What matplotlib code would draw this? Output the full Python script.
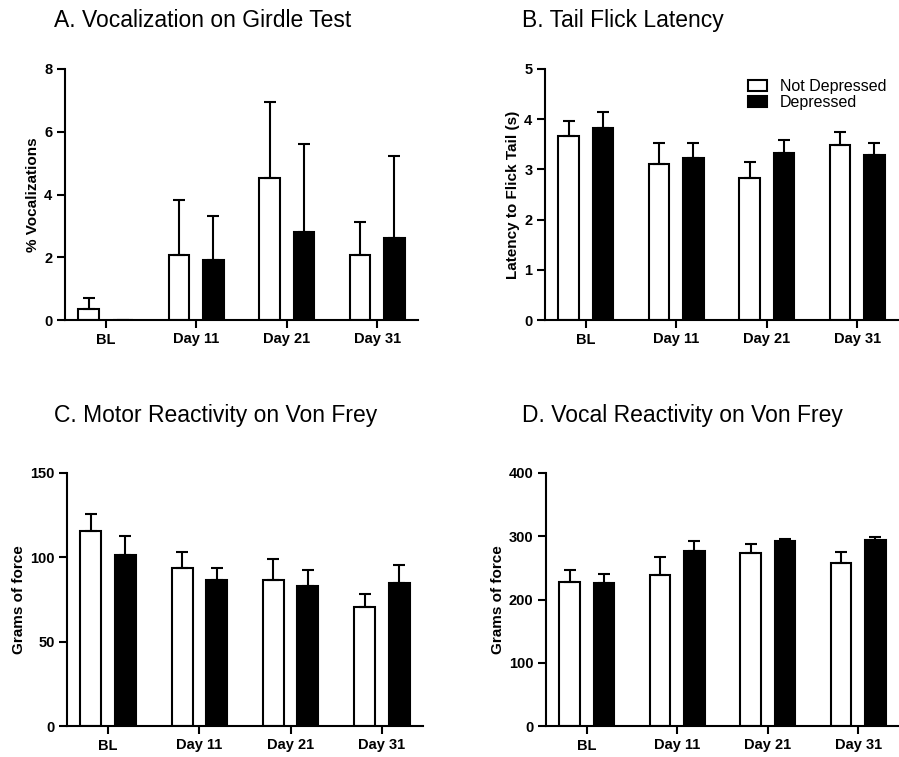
import numpy as np
import matplotlib
matplotlib.use("Agg")
import matplotlib.pyplot as plt

plt.rcParams['font.family'] = ['Liberation Sans', 'DejaVu Sans']

days = ["BL", "Day 11", "Day 21", "Day 31"]
groups = ["Not Depressed", "Depressed"]

# mean and upper SEM for each panel, (not depressed, depressed)
girdle_nd = [0.34, 2.07, 4.54, 2.07]
girdle_nd_err = [0.36, 1.76, 2.41, 1.06]
girdle_d = [0.0, 1.91, 2.79, 2.61]
girdle_d_err = [np.nan, 1.42, 2.81, 2.63]

tail_nd = [3.66, 3.11, 2.83, 3.48]
tail_nd_err = [0.31, 0.41, 0.31, 0.26]
tail_d = [3.83, 3.22, 3.33, 3.29]
tail_d_err = [0.32, 0.31, 0.26, 0.23]

motor_nd = [115.5, 93.9, 86.8, 70.7]
motor_nd_err = [10.3, 9.3, 12.3, 7.6]
motor_d = [101.6, 86.6, 83.2, 85.0]
motor_d_err = [10.9, 7.3, 9.3, 10.3]

vocal_nd = [227.7, 239.4, 273.7, 258.4]
vocal_nd_err = [18.5, 27.4, 13.8, 17.4]
vocal_d = [225.6, 276.9, 291.7, 293.3]
vocal_d_err = [14.8, 14.8, 4.7, 5.8]

panels = [
    ("A. Vocalization on Girdle Test", "% Vocalizations", girdle_nd, girdle_nd_err,
     girdle_d, girdle_d_err, 8, 2),
    ("B. Tail Flick Latency", "Latency to Flick Tail (s)", tail_nd, tail_nd_err,
     tail_d, tail_d_err, 5, 1),
    ("C. Motor Reactivity on Von Frey", "Grams of force", motor_nd, motor_nd_err,
     motor_d, motor_d_err, 150, 50),
    ("D. Vocal Reactivity on Von Frey", "Grams of force", vocal_nd, vocal_nd_err,
     vocal_d, vocal_d_err, 400, 100),
]

W, H = 899, 757
fig = plt.figure(figsize=(W / 100, H / 100), dpi=100)

# axes boxes in pixels: left, top, right, bottom
boxes = [(65, 69, 418, 320), (545, 69, 898, 320),
         (67, 473, 423, 726), (546, 473, 899, 726)]
title_pos = [(54, 27), (522, 27), (54, 422), (522, 422)]

lw = 1.5
x = np.arange(len(days))
off = 0.19
bw = 0.23

for i, (title, ylabel, nd, nd_err, d, d_err, ymax, step) in enumerate(panels):
    l, t, r, b = boxes[i]
    ax = fig.add_axes([l / W, 1 - b / H, (r - l) / W, (b - t) / H])

    ax.bar(x - off, nd, bw, color="white", edgecolor="black", linewidth=lw,
           label=groups[0], zorder=2)
    ax.bar(x + off, d, bw, color="black", edgecolor="black", linewidth=lw,
           label=groups[1], zorder=2)
    # upper error bars only
    ax.errorbar(x - off, nd, yerr=[np.zeros(4), nd_err], fmt="none", ecolor="black",
                elinewidth=lw, capsize=4, capthick=lw, zorder=3)
    ax.errorbar(x + off, d, yerr=[np.zeros(4), d_err], fmt="none", ecolor="black",
                elinewidth=lw, capsize=4, capthick=lw, zorder=3)

    ax.set_xlim(-0.45, 3.45)
    ax.set_ylim(0, ymax)
    ax.set_yticks(np.arange(0, ymax + step / 2, step))
    ax.set_xticks(x)
    ax.set_xticklabels(days)
    ax.spines["top"].set_visible(False)
    ax.spines["right"].set_visible(False)
    for s in ("left", "bottom"):
        ax.spines[s].set_linewidth(lw)
    ax.tick_params(length=6, width=lw, labelsize=10.5, pad=3)
    for lab in ax.get_xticklabels() + ax.get_yticklabels():
        lab.set_fontweight("bold")
    ax.set_ylabel(ylabel, fontsize=11, fontweight="bold", labelpad=3)

    tx, ty = title_pos[i]
    fig.text(tx / W, 1 - ty / H, title, fontsize=16.5, va="baseline", ha="left")

    if i == 1:
        ax.legend(loc="upper left", bbox_to_anchor=(0.552, 0.99), frameon=False,
                  fontsize=11.5, handlelength=1.2, handleheight=0.7,
                  labelspacing=0.05, handletextpad=0.8, borderpad=0)

fig.savefig("out.png", dpi=100)
